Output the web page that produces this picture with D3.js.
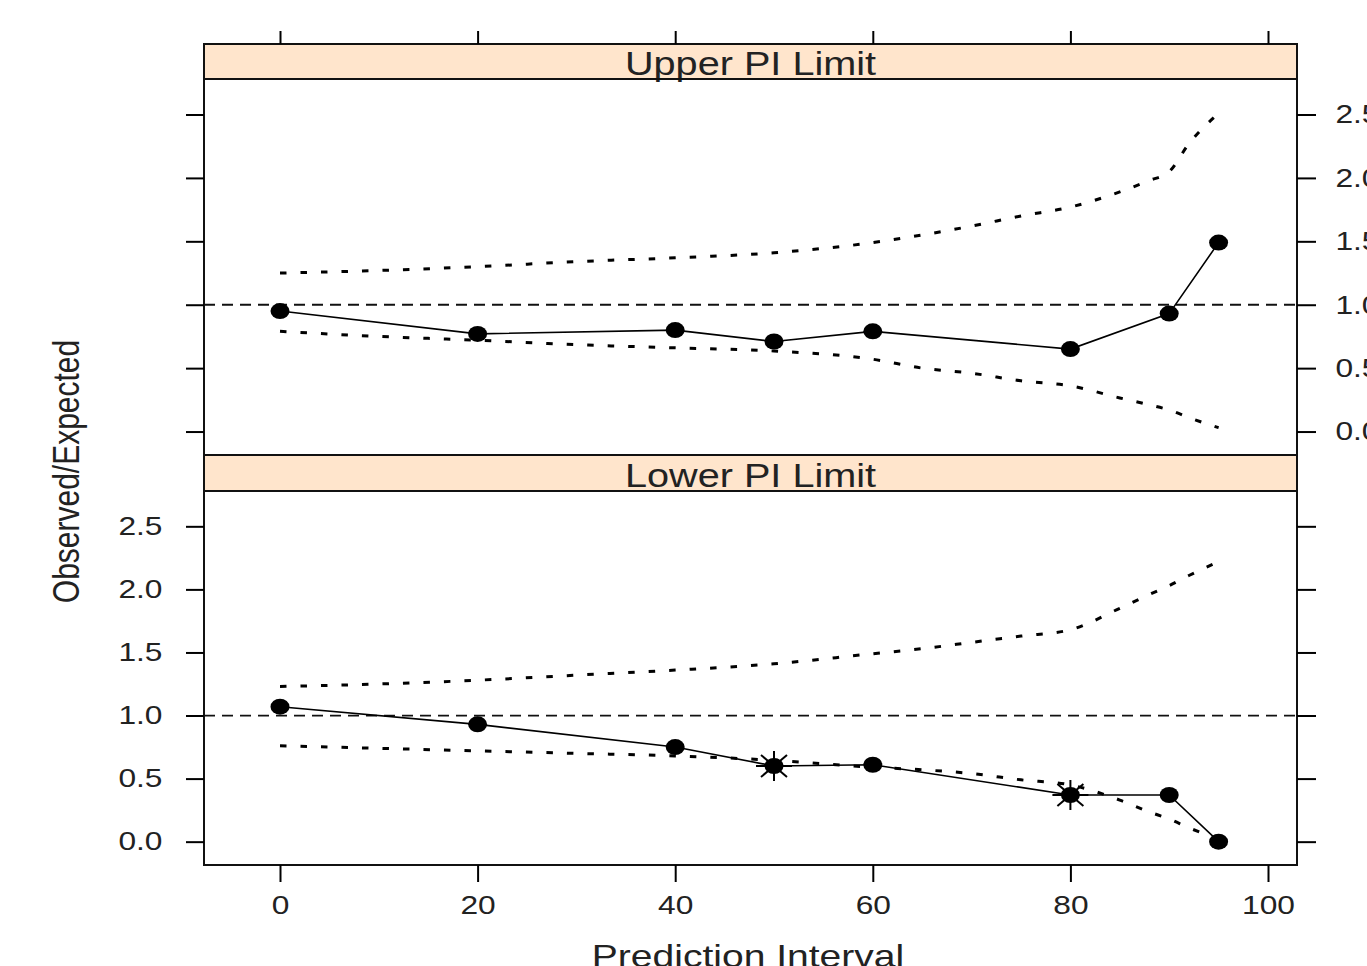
<!DOCTYPE html>
<html>
<head>
<meta charset="utf-8">
<script src="https://cdn.jsdelivr.net/npm/d3@7"></script>
<style>
  body { margin: 0; background: #fff; overflow: hidden; }
  svg { display: block; font-family: "Liberation Sans", Arial, sans-serif; }
</style>
</head>
<body>
<div class="canva"></div>
<script>
// observed / expected at each prediction interval
var piLevels = [0, 20, 40, 50, 60, 80, 90, 95];
var upperObs = [0.95, 0.77, 0.80, 0.71, 0.79, 0.65, 0.93, 1.49];
var lowerObs = [1.07, 0.93, 0.75, 0.60, 0.61, 0.37, 0.37, 0.00];
var lowerOutside = [50, 80]; // marked with an asterisk

// simulated confidence band
var bandPI = [0, 10, 20, 30, 40, 50, 60, 65, 70, 75, 80, 85, 88, 90, 92, 95];
var upperBandHi = [1.25, 1.27, 1.30, 1.34, 1.37, 1.41, 1.49, 1.55, 1.62, 1.70, 1.77, 1.89, 1.98, 2.05, 2.27, 2.51];
var upperBandLo = [0.79, 0.75, 0.72, 0.685, 0.66, 0.635, 0.57, 0.50, 0.46, 0.40, 0.36, 0.265, 0.21, 0.17, 0.11, 0.03];
var lowerBandHi = [1.23, 1.25, 1.28, 1.32, 1.36, 1.41, 1.49, 1.53, 1.58, 1.63, 1.68, 1.85, 1.96, 2.03, 2.11, 2.22];
var lowerBandLo = [0.76, 0.74, 0.72, 0.70, 0.68, 0.645, 0.59, 0.57, 0.54, 0.49, 0.45, 0.33, 0.235, 0.18, 0.11, 0.02];

var xTicks = [0, 20, 40, 60, 80, 100];
var yTicks = [0, 0.5, 1.0, 1.5, 2.0, 2.5];

const W = 1367, H = 966;
const left = 204, right = 1297;
const sx = 1.22; // the picture is stretched sideways

const svg = d3.select(".canva").append("svg")
    .attr("width", W)
    .attr("height", H);

const x = d3.scaleLinear().domain([0, 100]).range([280, 1268]);

var panels = [
    { title: "Upper PI Limit", stripTop: 44, top: 79, bottom: 455, obs: upperObs, hi: upperBandHi, lo: upperBandLo, labelSide: "right", stars: [] },
    { title: "Lower PI Limit", stripTop: 455, top: 491, bottom: 865, obs: lowerObs, hi: lowerBandHi, lo: lowerBandLo, labelSide: "left", stars: lowerOutside }
];

function stretchLabels(g) {
    g.selectAll(".tick text")
        .attr("transform", "scale(" + sx + ",1)")
        .attr("font-size", 26)
        .attr("fill", "#222")
        .attr("font-family", "Liberation Sans, Arial, sans-serif");
    g.selectAll(".tick line").attr("stroke", "#000").attr("stroke-width", 2);
    g.select(".domain").remove();
}

panels.forEach(function (p) {
    const y = d3.scaleLinear().domain([-0.185, 2.78]).range([p.bottom, p.top]);
    const g = svg.append("g");

    // strip
    g.append("rect")
        .attr("x", left).attr("y", p.stripTop)
        .attr("width", right - left).attr("height", p.top - p.stripTop)
        .attr("fill", "#ffe5cc").attr("stroke", "#111").attr("stroke-width", 2);
    g.append("text")
        .attr("transform", "translate(" + ((left + right) / 2) + "," + (p.top - 4) + ") scale(" + sx + ",1)")
        .attr("text-anchor", "middle")
        .attr("font-size", 32.5)
        .attr("fill", "#222")
        .text(p.title);

    // reference line
    g.append("line")
        .attr("x1", left).attr("x2", right)
        .attr("y1", y(1)).attr("y2", y(1))
        .attr("stroke", "#111").attr("stroke-width", 1.8)
        .attr("stroke-dasharray", "11,7");

    // band
    const band = d3.line()
        .x(function (d) { return x(d[0]); })
        .y(function (d) { return y(d[1]); })
        .curve(d3.curveMonotoneX);
    [p.hi, p.lo].forEach(function (vals) {
        g.append("path")
            .datum(bandPI.map(function (v, i) { return [v, vals[i]]; }))
            .attr("d", band)
            .attr("fill", "none")
            .attr("stroke", "#000")
            .attr("stroke-width", 3)
            .attr("stroke-dasharray", "6.5,14");
    });

    // observed
    const obs = piLevels.map(function (v, i) { return [v, p.obs[i]]; });
    g.append("path")
        .datum(obs)
        .attr("d", d3.line().x(function (d) { return x(d[0]); }).y(function (d) { return y(d[1]); }))
        .attr("fill", "none")
        .attr("stroke", "#000")
        .attr("stroke-width", 1.6);

    g.selectAll("ellipse.pt")
        .data(obs)
        .enter().append("ellipse")
        .attr("class", "pt")
        .attr("cx", function (d) { return x(d[0]); })
        .attr("cy", function (d) { return y(d[1]); })
        .attr("rx", 9.5)
        .attr("ry", 8)
        .attr("fill", "#000");

    // asterisks for points outside the band
    const star = g.selectAll("g.star")
        .data(obs.filter(function (d) { return p.stars.indexOf(d[0]) >= 0; }))
        .enter().append("g")
        .attr("class", "star")
        .attr("transform", function (d) { return "translate(" + x(d[0]) + "," + y(d[1]) + ")"; });
    [[0, -15, 0, 15], [-18, 0, 18, 0], [-13, -11, 13, 11], [-13, 11, 13, -11]].forEach(function (s) {
        star.append("line")
            .attr("x1", s[0]).attr("y1", s[1]).attr("x2", s[2]).attr("y2", s[3])
            .attr("stroke", "#000").attr("stroke-width", 2);
    });

    // frame
    g.append("rect")
        .attr("x", left).attr("y", p.top)
        .attr("width", right - left).attr("height", p.bottom - p.top)
        .attr("fill", "none").attr("stroke", "#111").attr("stroke-width", 2);

    // y axes: labels on one side, bare ticks on the other
    const yl = d3.axisLeft(y).tickValues(yTicks).tickSize(18).tickPadding(16).tickFormat(d3.format(".1f"));
    const yr = d3.axisRight(y).tickValues(yTicks).tickSize(19).tickPadding(12.5).tickFormat(d3.format(".1f"));
    if (p.labelSide === "left") yr.tickFormat("");
    else yl.tickFormat("");

    svg.append("g").attr("transform", "translate(" + left + ",0)").call(yl).call(stretchLabels);
    svg.append("g").attr("transform", "translate(" + right + ",0)").call(yr).call(stretchLabels);
});

// x axes
svg.append("g")
    .attr("transform", "translate(0,865)")
    .call(d3.axisBottom(x).tickValues(xTicks).tickSize(17).tickPadding(14).tickFormat(d3.format("d")))
    .call(stretchLabels);
svg.append("g")
    .attr("transform", "translate(0,44)")
    .call(d3.axisTop(x).tickValues(xTicks).tickSize(13).tickFormat(""))
    .call(stretchLabels);

// axis titles
svg.append("text")
    .attr("transform", "translate(79,471.5) scale(1.2,1) rotate(-90)")
    .attr("text-anchor", "middle")
    .attr("font-size", 30)
    .attr("fill", "#222")
    .text("Observed/Expected");

svg.append("text")
    .attr("transform", "translate(748,967) scale(" + sx + ",1)")
    .attr("text-anchor", "middle")
    .attr("font-size", 32)
    .attr("fill", "#222")
    .text("Prediction Interval");
</script>
</body>
</html>
